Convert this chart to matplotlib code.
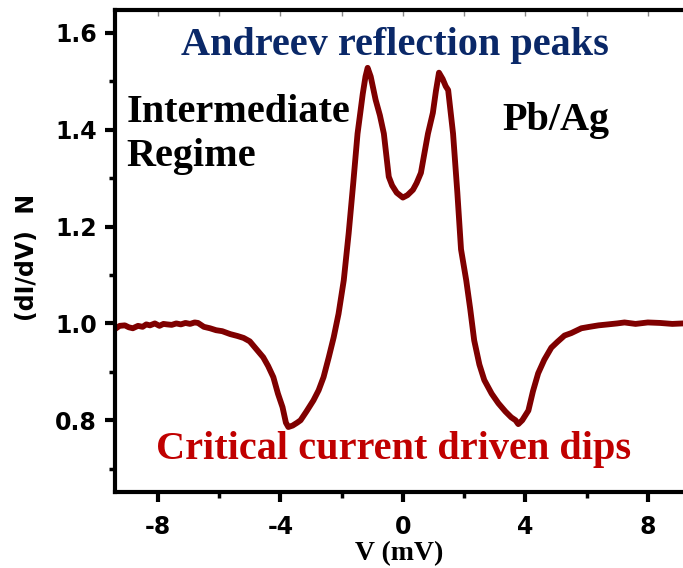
import matplotlib
matplotlib.use("Agg")
import matplotlib.pyplot as plt
from matplotlib.ticker import MultipleLocator

# bias voltage (mV) and normalised conductance
v_mv = [-9.41, -9.25, -9.08, -8.95, -8.82, -8.65, -8.5, -8.38, -8.26, -8.1,
        -7.95, -7.82, -7.7, -7.55, -7.4, -7.25, -7.1, -6.95, -6.8, -6.69,
        -6.5, -6.3, -6.1, -5.9, -5.64, -5.4, -5.2, -5.0, -4.8, -4.56,
        -4.4, -4.23, -4.08, -3.93, -3.82, -3.74, -3.6, -3.45, -3.34, -3.15,
        -2.92, -2.75, -2.59, -2.42, -2.26, -2.1, -1.93, -1.77, -1.62, -1.48,
        -1.38, -1.31, -1.22, -1.15, -1.05, -0.95, -0.89, -0.75, -0.62, -0.46,
        -0.35, -0.2, 0.0, 0.15, 0.33, 0.45, 0.59, 0.7, 0.82, 0.98,
        1.08, 1.18, 1.3, 1.4, 1.48, 1.64, 1.78, 1.9, 2.07, 2.2,
        2.33, 2.5, 2.66, 2.9, 3.12, 3.35, 3.54, 3.68, 3.77, 3.9,
        4.1, 4.25, 4.42, 4.62, 4.85, 5.05, 5.28, 5.5, 5.83, 6.1,
        6.39, 6.7, 7.0, 7.24, 7.6, 8.0, 8.4, 8.8, 9.15]
g_norm = [0.988, 0.995, 0.996, 0.992, 0.990, 0.995, 0.993, 0.998, 0.996, 1.000,
          0.995, 0.999, 0.998, 0.997, 1.000, 0.998, 1.001, 0.999, 1.002, 1.001,
          0.993, 0.990, 0.986, 0.984, 0.978, 0.974, 0.970, 0.963, 0.948, 0.930,
          0.912, 0.889, 0.855, 0.827, 0.795, 0.786, 0.789, 0.795, 0.800, 0.818,
          0.841, 0.862, 0.889, 0.930, 0.971, 1.020, 1.089, 1.186, 1.290, 1.392,
          1.440, 1.474, 1.510, 1.528, 1.510, 1.480, 1.462, 1.430, 1.392, 1.303,
          1.285, 1.270, 1.260, 1.265, 1.276, 1.290, 1.311, 1.350, 1.392, 1.435,
          1.480, 1.518, 1.505, 1.490, 1.482, 1.392, 1.270, 1.153, 1.089, 1.030,
          0.965, 0.915, 0.883, 0.855, 0.835, 0.818, 0.806, 0.800, 0.792, 0.800,
          0.820, 0.860, 0.897, 0.925, 0.950, 0.962, 0.975, 0.980, 0.990, 0.993,
          0.996, 0.998, 1.000, 1.002, 0.999, 1.002, 1.001, 0.999, 1.000]

x_ticks = [-8, -4, 0, 4, 8]
y_ticks = [0.8, 1.0, 1.2, 1.4, 1.6]

fig = plt.figure(figsize=(6.83, 5.68), dpi=100)
ax = fig.add_axes([0.168, 0.134, 0.832, 0.848])

ax.plot(v_mv, g_norm, color="#7f0000", lw=4.2, solid_joinstyle="round")

ax.set_xlim(-9.41, 9.15)
ax.set_ylim(0.652, 1.647)
ax.set_xticks(x_ticks)
ax.set_yticks(y_ticks)
ax.set_xticklabels([str(t) for t in x_ticks])
ax.set_yticklabels(["%.1f" % t for t in y_ticks])
ax.xaxis.set_minor_locator(MultipleLocator(2))
ax.yaxis.set_minor_locator(MultipleLocator(0.1))

for lab in ax.get_xticklabels() + ax.get_yticklabels():
    lab.set_fontfamily("DejaVu Sans")
    lab.set_fontweight("bold")
    lab.set_fontsize(17)

ax.tick_params(which="major", direction="out", length=7, width=3)
ax.tick_params(axis="x", which="major", pad=10)
ax.tick_params(axis="y", which="major", pad=6)
ax.tick_params(which="minor", direction="out", length=4, width=2.5)
ax.spines["right"].set_visible(False)
for s in ["left", "bottom", "top"]:
    ax.spines[s].set_linewidth(3)

# little inward ticks along the top edge
sec = ax.secondary_xaxis("top")
sec.set_xticks([-8, -6, -4, -2, 0, 2, 4, 6, 8])
sec.tick_params(direction="in", length=4, width=1, color="#888888", labeltop=False)
sec.spines["top"].set_visible(False)

serif = "Liberation Serif"
ax.text(0.493, 0.927, "Andreev reflection peaks", transform=ax.transAxes,
        ha="center", va="center", fontsize=29, fontweight="bold",
        family=serif, color="#0a2868")
ax.text(0.021, 0.742, "Intermediate\nRegime", transform=ax.transAxes,
        ha="left", va="center", fontsize=29, fontweight="bold",
        family=serif, color="black", linespacing=1.25)
ax.text(0.776, 0.772, "Pb/Ag", transform=ax.transAxes,
        ha="center", va="center", fontsize=29, fontweight="bold",
        family=serif, color="black")
ax.text(0.491, 0.087, "Critical current driven dips", transform=ax.transAxes,
        ha="center", va="center", fontsize=29, fontweight="bold",
        family=serif, color="#c00000")

ax.set_xlabel("V (mV)", fontsize=20, fontweight="bold", family=serif, labelpad=1)
fig.text(0.04, 0.546, "(dI/dV)  N", rotation=90, ha="center", va="center",
         fontsize=17, fontweight="bold", family="DejaVu Sans")

fig.savefig("out.png", dpi=100)
